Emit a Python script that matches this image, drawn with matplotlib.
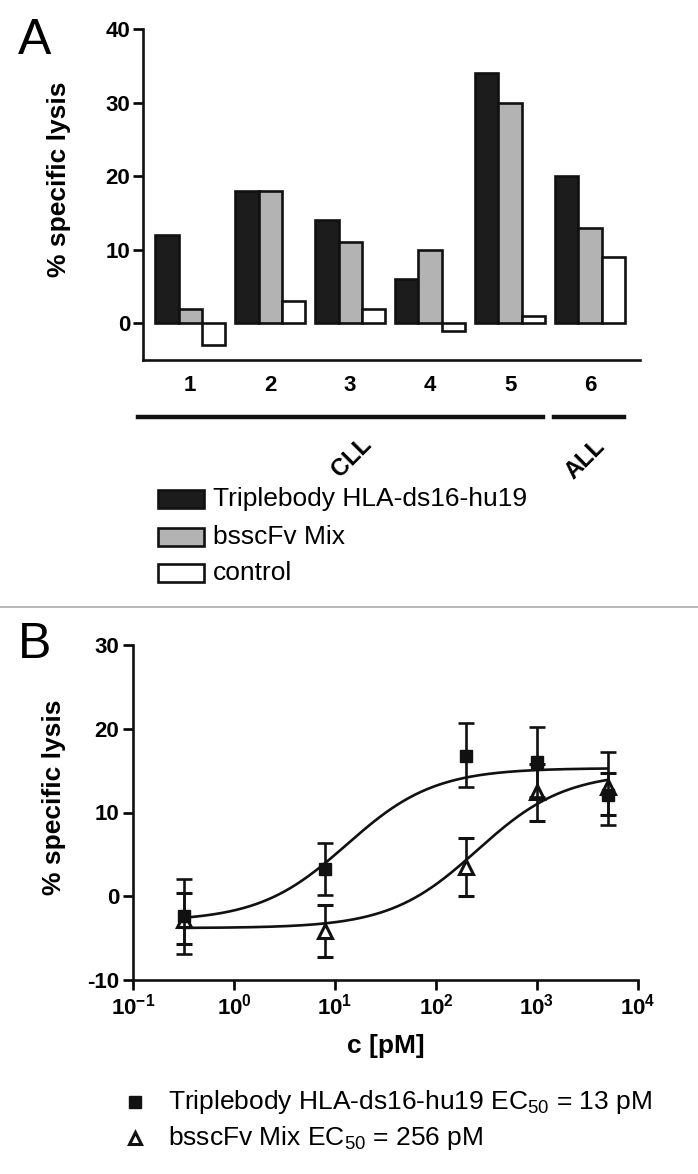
import numpy as np
import matplotlib.pyplot as plt
from matplotlib.patches import Rectangle
from matplotlib.lines import Line2D

plt.rcParams['font.family'] = ['Liberation Sans', 'DejaVu Sans']
plt.rcParams['mathtext.fontset'] = 'custom'
plt.rcParams['mathtext.rm'] = 'Liberation Sans'
plt.rcParams['mathtext.bf'] = 'Liberation Sans:bold'
plt.rcParams['axes.unicode_minus'] = False

# =========================
# DATA
# =========================

# panel A: % specific lysis per patient sample
samples = ["1", "2", "3", "4", "5", "6"]
triplebody = [12, 18, 14, 6, 34, 20]
bsscfv_mix = [2, 18, 11, 10, 30, 13]
control = [-3, 3, 2, -1, 1, 9]
bar_labels = ["Triplebody HLA-ds16-hu19", "bsscFv Mix", "control"]
groups = ["CLL", "ALL"]

# panel B: dose response
conc = [0.32, 8, 200, 1000, 5000]
tb_mean = [-2.3, 3.2, 16.7, 16.0, 12.1]
tb_upper = [2.1, 6.4, 20.7, 20.2, 17.2]
tb_lower = [-6.9, 0.2, 13.0, 11.8, 8.5]
mix_mean = [-2.8, -4.1, 3.5, 12.4, 13.1]
mix_upper = [0.35, -1.1, 6.9, 15.8, 14.7]
mix_lower = [-5.7, -7.2, 0.0, 9.0, 9.7]

# fitted sigmoid parameters (bottom, top, EC50)
tb_fit = (-3.0, 15.3, 13)
mix_fit = (-3.8, 14.8, 256)

W, H = 698, 1174
fig = plt.figure(figsize=(W / 100, H / 100), dpi=100)


def fx(px):
    return px / W


def fy(py):
    return 1 - py / H


LW = 1.9
INK = "#111111"

# =========================
# PANEL A
# =========================

ax = fig.add_axes([fx(143), fy(360), (640 - 143) / W, (360 - 29) / H])

x = np.arange(1, len(samples) + 1)
bw = 0.29
ax.bar(x - bw, triplebody, bw, color="#1c1c1c", edgecolor=INK, linewidth=LW)
ax.bar(x, bsscfv_mix, bw, color="#b3b3b3", edgecolor=INK, linewidth=LW)
ax.bar(x + bw, control, bw, color="white", edgecolor=INK, linewidth=LW)

ax.set_xlim(0.41, 6.625)
ax.set_ylim(-5, 40)
ax.set_yticks([0, 10, 20, 30, 40])
ax.set_xticks(x)
ax.set_xticklabels(samples)
ax.spines["top"].set_visible(False)
ax.spines["right"].set_visible(False)
for s in ["left", "bottom"]:
    ax.spines[s].set_linewidth(LW)
    ax.spines[s].set_color(INK)
ax.tick_params(axis="y", direction="out", length=7, width=LW, labelsize=16, pad=2)
ax.tick_params(axis="x", length=0, labelsize=16, pad=11)
for t in ax.get_xticklabels() + ax.get_yticklabels():
    t.set_fontweight("bold")
ax.set_ylabel("% specific lysis", fontsize=19, fontweight="bold")
ax.yaxis.set_label_coords(-0.145, 0.545)

fig.text(fx(18), fy(18), "A", fontsize=36, ha="left", va="top")

# group brackets
fig.add_artist(Line2D([fx(138), fx(543)], [fy(417), fy(417)],
                      color=INK, lw=3.2, transform=fig.transFigure))
fig.add_artist(Line2D([fx(554), fx(624)], [fy(417), fy(417)],
                      color=INK, lw=3.2, transform=fig.transFigure))
fig.text(fx(352), fy(457), groups[0], fontsize=17, fontweight="bold",
         rotation=45, ha="center", va="center")
fig.text(fx(585), fy(459), groups[1], fontsize=17, fontweight="bold",
         rotation=45, ha="center", va="center")

# legend A
fills = ["#1c1c1c", "#b3b3b3", "white"]
rows = [499, 537, 573]
for lab, fc, ry in zip(bar_labels, fills, rows):
    fig.add_artist(Rectangle((fx(158), fy(ry + 9)), 46 / W, 18 / H,
                             facecolor=fc, edgecolor=INK, lw=LW,
                             transform=fig.transFigure))
    fig.text(fx(213), fy(ry), lab, fontsize=19, ha="left", va="center")

# separator
fig.add_artist(Line2D([0, 1], [fy(607), fy(607)], color="#aaaaaa", lw=1.2,
                      transform=fig.transFigure))

# =========================
# PANEL B
# =========================

bx = fig.add_axes([fx(133), fy(980), (638 - 133) / W, (980 - 645) / H])
bx.set_xscale("log")


def sigmoid(c, bottom, top, ec50):
    return bottom + (top - bottom) / (1 + ec50 / c)


cc = np.logspace(np.log10(conc[0]), np.log10(conc[-1]), 300)
bx.plot(cc, sigmoid(cc, *tb_fit), color=INK, lw=LW)
bx.plot(cc, sigmoid(cc, *mix_fit), color=INK, lw=LW)

mix_err = [np.array(mix_mean) - np.array(mix_lower),
           np.array(mix_upper) - np.array(mix_mean)]
tb_err = [np.array(tb_mean) - np.array(tb_lower),
          np.array(tb_upper) - np.array(tb_mean)]
bx.errorbar(conc, mix_mean, yerr=mix_err, fmt="^", ms=10, mfc="white",
            mec=INK, mew=2.2, ecolor=INK, elinewidth=LW,
            capsize=6, capthick=LW, zorder=3)
bx.errorbar(conc, tb_mean, yerr=tb_err, fmt="s", ms=9, mfc=INK,
            mec=INK, ecolor=INK, elinewidth=LW,
            capsize=6, capthick=LW, zorder=4)

bx.set_xlim(0.1, 1e4)
bx.set_ylim(-10, 30)
bx.set_yticks([-10, 0, 10, 20, 30])
decades = [0.1, 1, 10, 100, 1000, 10000]
bx.set_xticks(decades)
bx.set_xticklabels([r"$\mathbf{10^{%d}}$" % int(np.log10(d)) for d in decades])
bx.minorticks_off()
bx.spines["top"].set_visible(False)
bx.spines["right"].set_visible(False)
for s in ["left", "bottom"]:
    bx.spines[s].set_linewidth(LW)
    bx.spines[s].set_color(INK)
bx.tick_params(direction="out", length=7, width=LW, labelsize=16, pad=3)
for t in bx.get_yticklabels():
    t.set_fontweight("bold")
bx.set_ylabel("% specific lysis", fontsize=19, fontweight="bold")
bx.yaxis.set_label_coords(-0.132, 0.545)
bx.set_xlabel("c [pM]", fontsize=19, fontweight="bold", labelpad=10)

fig.text(fx(18), fy(622), "B", fontsize=36, ha="left", va="top")

# legend B
fig.add_artist(Line2D([fx(135)], [fy(1102)], marker="s", ms=8, color=INK,
                      ls="none", transform=fig.transFigure))
fig.add_artist(Line2D([fx(135)], [fy(1138)], marker="^", ms=9, mfc="white",
                      mec=INK, mew=2.2, ls="none",
                      transform=fig.transFigure))
fig.text(fx(168), fy(1102), r"Triplebody HLA-ds16-hu19 EC$_{50}$ = 13 pM",
         fontsize=19, ha="left", va="center")
fig.text(fx(168), fy(1138), r"bsscFv Mix EC$_{50}$ = 256 pM",
         fontsize=19, ha="left", va="center")

fig.savefig("out.png", dpi=100)
